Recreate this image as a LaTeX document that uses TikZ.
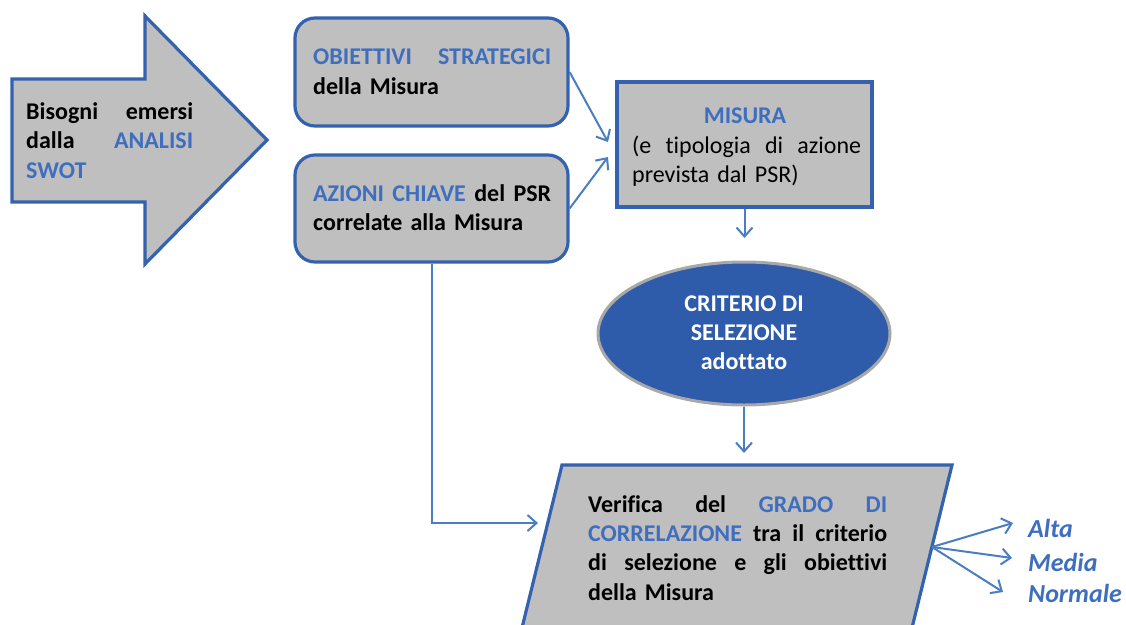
\documentclass[tikz,border=0pt]{standalone}
\usepackage{fontspec}
\setmainfont{Carlito}[Ligatures={NoCommon}]
\usetikzlibrary{arrows.meta,shapes.geometric}
\definecolor{bord}{HTML}{3462AE}
\definecolor{lnk}{HTML}{4A7EC0}
\definecolor{txtb}{HTML}{3F6EBE}
\definecolor{ellf}{HTML}{2E5BAA}
\definecolor{ellb}{HTML}{A8A8A8}
\definecolor{gfill}{HTML}{BFBFBF}
\newcommand\bl[1]{\textcolor{txtb}{#1}}
\newcommand\jrow[2]{\leavevmode\hbox to #1{#2}}
\newcommand\fs{\fontsize{24}{29.3}\selectfont}
\begin{document}
\begin{tikzpicture}[x=1pt,y=-1pt,
  shapebox/.style={draw=bord, fill=gfill, line width=3.2pt},
  rbox/.style={shapebox, rounded corners=20pt, inner sep=0pt},
  txt/.style={anchor=north west, inner sep=0pt, align=left, font=\fs\bfseries},
  conn/.style={draw=lnk, line width=2pt, -{Straight Barb[length=9pt,width=16pt]}},
  lab/.style={anchor=base west, inner sep=0pt, text=txtb, font=\fontsize{26}{31}\selectfont\bfseries\itshape},
]
\useasboundingbox (0,0) rectangle (1126,624);

% big arrow
\draw[shapebox] (12,79) -- (145,79) -- (145,16) -- (267,140) -- (145,264) -- (145,202) -- (12,202) -- cycle;
\node[txt, text width=167pt] (bis) at (26,98.8) {\strut\jrow{167pt}{Bisogni\hfill emersi}\\\jrow{167pt}{dalla\hfill \bl{ANALISI}}\\\bl{SWOT}};

% boxes
\node[rbox, minimum width=273pt, minimum height=108pt] (obj) at (431.5,72) {};
\node[rbox, minimum width=273pt, minimum height=107pt] (azi) at (431.5,208.5) {};
\node[shapebox, inner sep=0pt, minimum width=255pt, minimum height=125pt] (mis) at (744.5,144.5) {};
\node[draw=ellb, fill=ellf, line width=3pt, ellipse, inner sep=0pt, minimum width=292pt, minimum height=143pt] (ell) at (744,333.5) {};

% parallelogram
\begin{scope}
\clip (0,0) rectangle (1126,624);
\filldraw[shapebox] (519,640) -- (562,465) -- (952,465) -- (909,640) -- cycle;
\end{scope}

% texts
\node[txt, text width=238pt] (objt) at (313,44) {\strut\jrow{238pt}{\bl{OBIETTIVI\hfill STRATEGICI}}\\della Misura};
\node[txt, text width=238pt] (azit) at (313,180.5) {\strut\jrow{238pt}{\bl{AZIONI\hfill CHIAVE}\hfill del\hfill PSR}\\correlate alla Misura};
\node[anchor=base, inner sep=0pt, font=\fs\bfseries, text=txtb] (mist) at (745,123) {MISURA};
\node[txt, font=\fs, text width=229pt] (mist2) at (632,132.5) {\strut\jrow{229pt}{(e\hfill tipologia\hfill di\hfill azione}\\prevista dal PSR)};
\node[anchor=north, align=center, inner sep=0pt, font=\fs\bfseries, text=white] (ellt) at (744,290.5) {\strut CRITERIO DI\\SELEZIONE\\adottato};
\node[txt, text width=299pt] (vert) at (588,491.5) {\strut\jrow{299pt}{Verifica\hfill del\hfill \bl{GRADO\hfill DI}}\\\jrow{299pt}{\bl{CORRELAZIONE}\hfill tra\hfill il\hfill criterio}\\\jrow{299pt}{di\hfill selezione\hfill e\hfill gli\hfill obiettivi}\\della Misura};

\node[lab] (alta) at (1028,537) {Alta};
\node[lab] (media) at (1028,571) {Media};
\node[lab] (norm) at (1028,602) {Normale};

% connectors
\coordinate (m1) at (608,142);
\coordinate (m2) at (608,157);
\coordinate (e1) at (744.5,238);
\coordinate (e2) at (744,453);
\coordinate (v1) at (538,523);
\coordinate (vr) at (932,547);
\coordinate (a1) at (1013,523);
\coordinate (a2) at (1012,558);
\coordinate (a3) at (1003,592);
\draw[conn] (obj.east) -- (m1);
\draw[conn] (azi.east) -- (m2);
\draw[conn] (mis.south) -- (e1);
\draw[conn] (ell.south) -- (e2);
\draw[conn] (azi.south) |- (v1);
\draw[conn] (vr) -- (a1);
\draw[conn] (vr) -- (a2);
\draw[conn] (vr) -- (a3);
\end{tikzpicture}
\end{document}
